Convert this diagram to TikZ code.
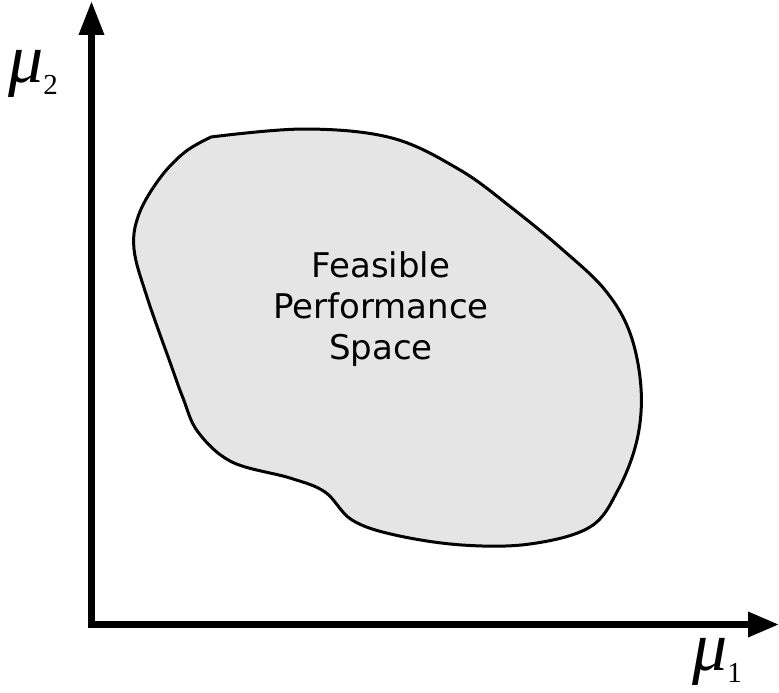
\documentclass[tikz,border=0pt]{standalone}
\usepackage{fontspec}
\setmainfont{DejaVu Sans}
\newfontfamily\greekfont{Liberation Serif}
\usetikzlibrary{arrows.meta}
\tikzset{
  axis/.style={line width=6.5pt,line join=miter,
    {Triangle[length=34pt,width=24pt]}-{Triangle[length=31pt,width=24pt]}},
  region/.style={line width=3pt,fill=black!10,line join=round},
  axislabel/.style={inner sep=0pt,anchor=base west}
}
\newcommand{\mulabel}[1]{{\greekfont\fontsize{70}{70}\selectfont\itshape μ}%
  \raisebox{-12pt}{\greekfont\fontsize{29}{29}\selectfont #1}}
\begin{document}
\begin{tikzpicture}[x=1pt,y=-1pt]
  \useasboundingbox (0,0) rectangle (779,693);
  % axes
  \coordinate (ytip) at (91.5,1);
  \coordinate (origin) at (91.5,624.5);
  \coordinate (xtip) at (779,624.5);
  \draw[axis] (ytip) -- (origin) -- (xtip);
  % axis labels
  \node[axislabel] (mu2) at (8,82) {\mulabel{2}};
  \node[axislabel] (mu1) at (692,670) {\mulabel{1}};
  % feasible region
  \draw[region] plot[smooth,tension=0.6] coordinates {
    (211,137) (305,129) (392,138) (460,170) (512,208) (563,250)
    (605,290) (630,333) (641,388) (637,440) (618,490) (590,527)
    (530,544) (462,545) (395,535) (352,520) (325,492) (290,478)
    (232,462) (198,432) (183,398) (171,365) (147,297) (134,249)
    (139,214) (160,178) (185,152) (211,137)} -- cycle;
  \node[align=center,font=\fontsize{34}{41}\selectfont] (space) at (381,309)
    {Feasible\\Performance\\Space};
\end{tikzpicture}
\end{document}
